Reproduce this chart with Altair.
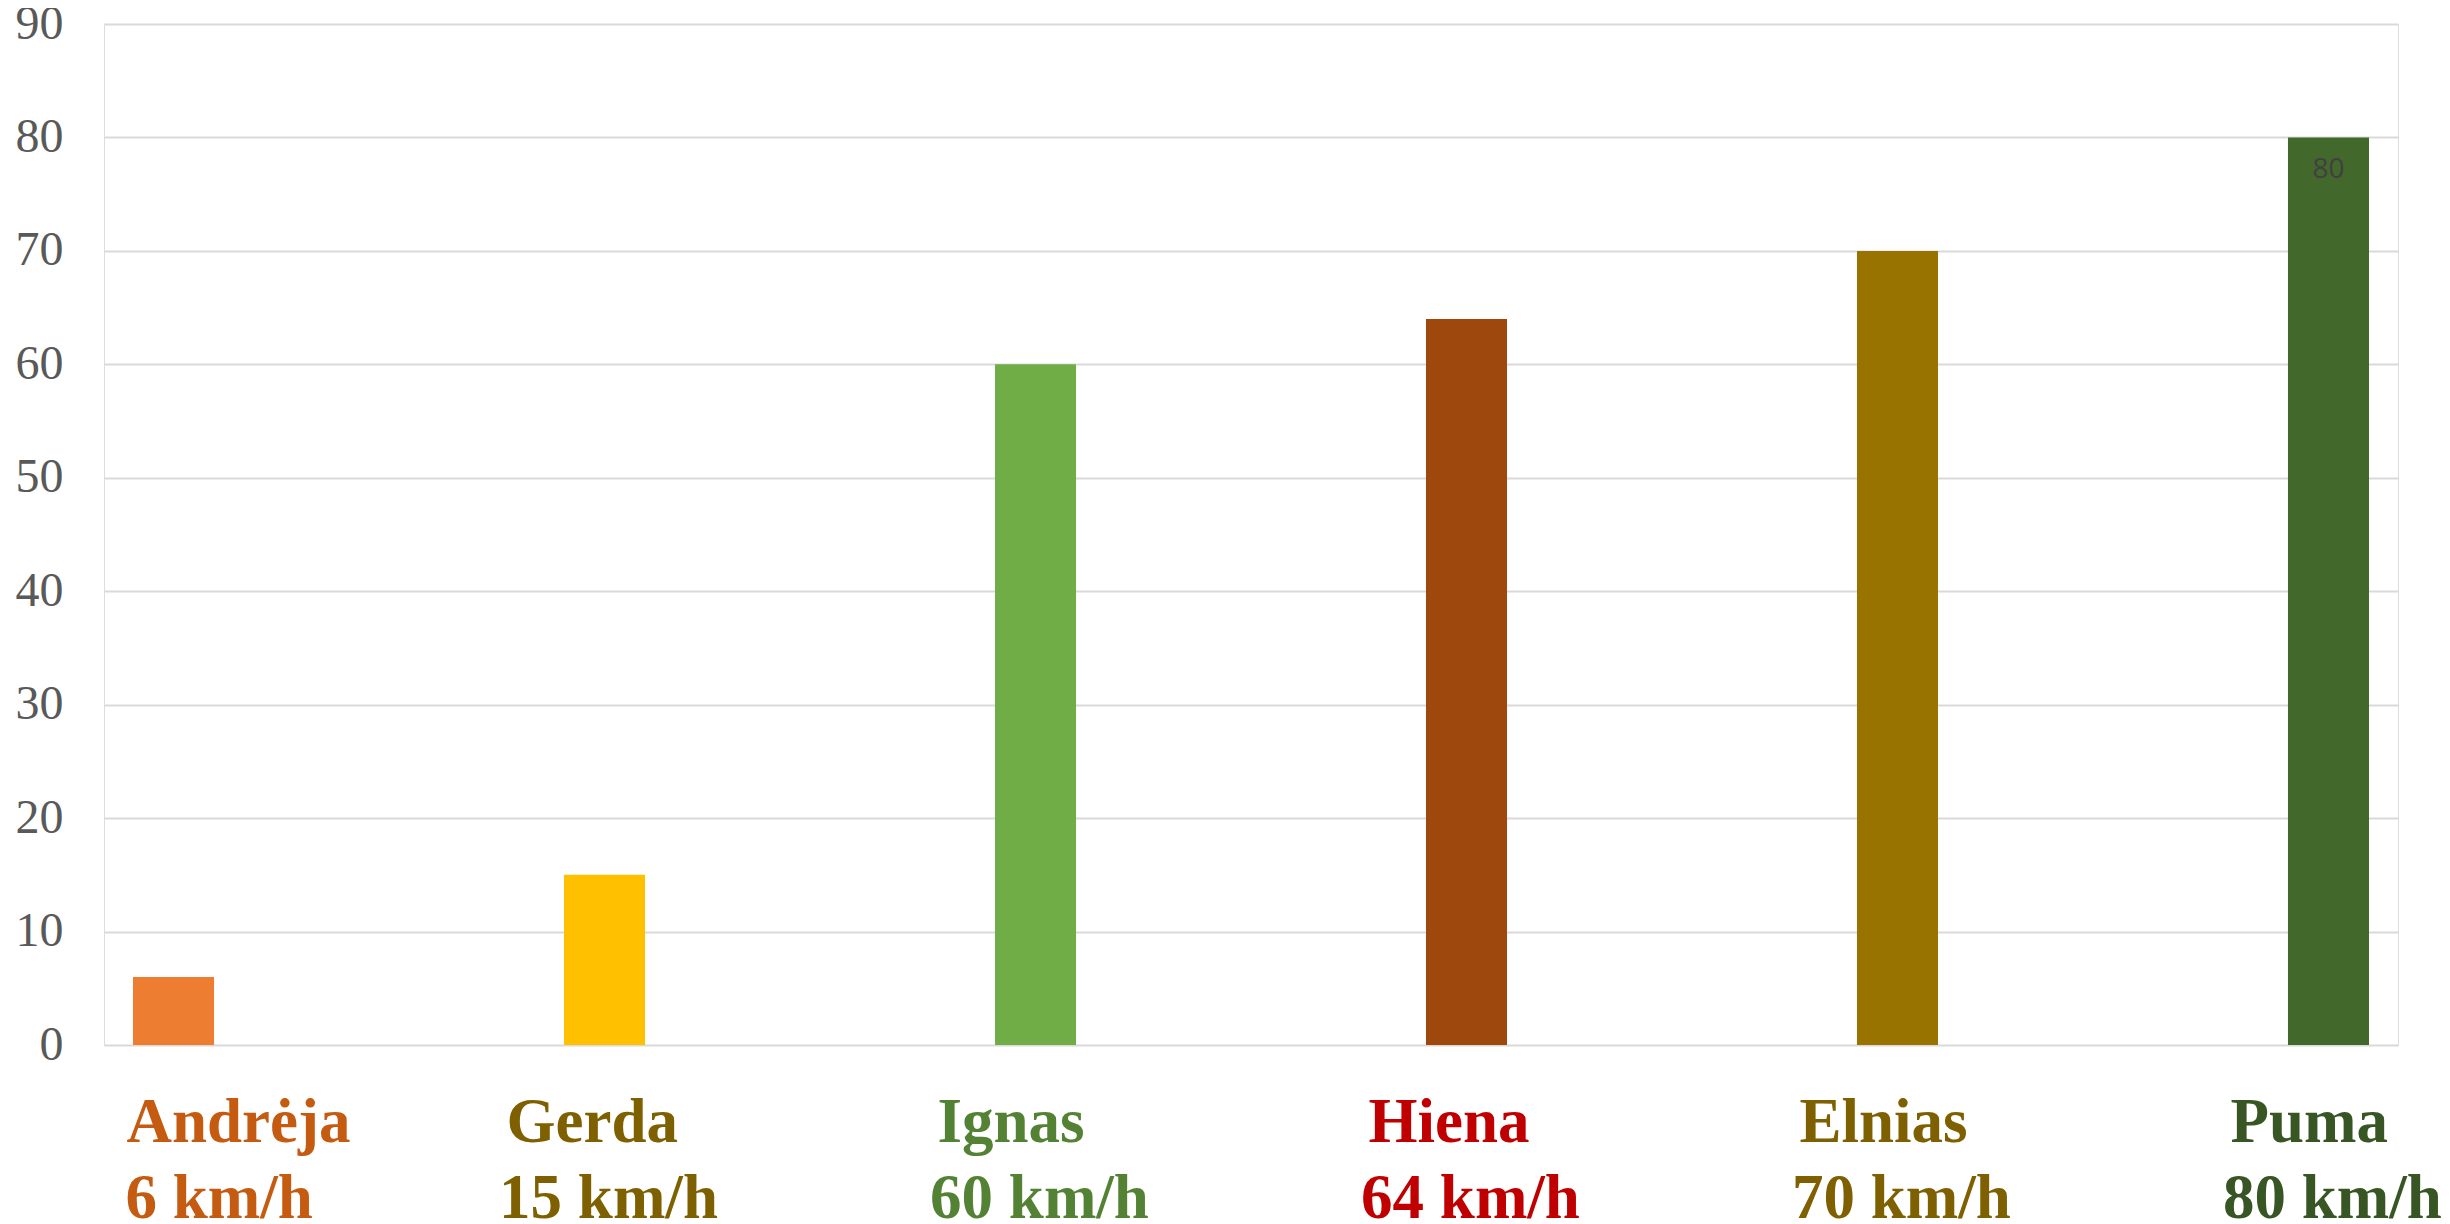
import altair as alt
import pandas as pd

names = ["Andrėja", "Gerda", "Ignas", "Hiena", "Elnias", "Puma"]
speeds = [6, 15, 60, 64, 70, 80]
speed_labels = ["6 km/h", "15 km/h", "60 km/h", "64 km/h", "70 km/h", "80 km/h"]
bar_colors = ["#ED7D31", "#FFC000", "#70AD47", "#9E480E", "#997300", "#43682B"]
label_colors = ["#C55A11", "#7F6000", "#548235", "#C00000", "#7F6000", "#375623"]
y_ticks = [0, 10, 20, 30, 40, 50, 60, 70, 80, 90]

df = pd.DataFrame({
    "name": names,
    "speed": speeds,
    "speed_label": speed_labels,
    "bar_color": bar_colors,
    "label_color": label_colors,
})

W = 2294
H = 1021

x = alt.X("name:N", sort=names, axis=None,
          scale=alt.Scale(paddingInner=0.812, paddingOuter=0.0673))

base = alt.Chart(df)

bars = base.mark_bar().encode(
    x=x,
    y=alt.Y("speed:Q",
            scale=alt.Scale(domain=[0, 90], nice=False),
            axis=alt.Axis(values=y_ticks, title=None, ticks=False, domain=False,
                          labelFont="Liberation Serif", labelFontSize=48,
                          labelColor="#595959", labelPadding=41,
                          gridColor="#D9D9D9", gridWidth=2)),
    color=alt.Color("bar_color:N", scale=None),
)

value_label = base.transform_filter(
    alt.datum.name == "Puma"
).mark_text(font="Open Sans", fontSize=28, color="#404040", baseline="middle", dy=33).encode(
    x=x,
    y=alt.Y("speed:Q"),
    text=alt.Text("speed:Q"),
)

text_style = dict(font="Liberation Serif", fontSize=63, fontWeight="bold",
                  baseline="alphabetic")
first = alt.datum.name == names[0]
rest = alt.datum.name != names[0]


def label_layer(field, ypos, flt, **kw):
    return base.transform_filter(flt).mark_text(**text_style, **kw).encode(
        x=x,
        y=alt.value(ypos),
        text=f"{field}:N",
        color=alt.Color("label_color:N", scale=None),
    )


name_first = label_layer("name", H + 97, first, align="left", dx=-47)
name_rest = label_layer("name", H + 97, rest, align="left", dx=-98)
speed_first = label_layer("speed_label", H + 173, first, align="left", dx=-48)
speed_rest = label_layer("speed_label", H + 173, rest, align="center", dx=4)

chart = alt.layer(bars, value_label, name_first, name_rest, speed_first, speed_rest).properties(
    width=W, height=H,
    autosize=alt.AutoSizeParams(type="none"),
    padding={"left": 96, "top": 16, "right": 44, "bottom": 179},
).configure_view(stroke="transparent", strokeWidth=0).configure(background="white")

chart.save("out.html", embed_options={"renderer": "svg", "actions": False})
